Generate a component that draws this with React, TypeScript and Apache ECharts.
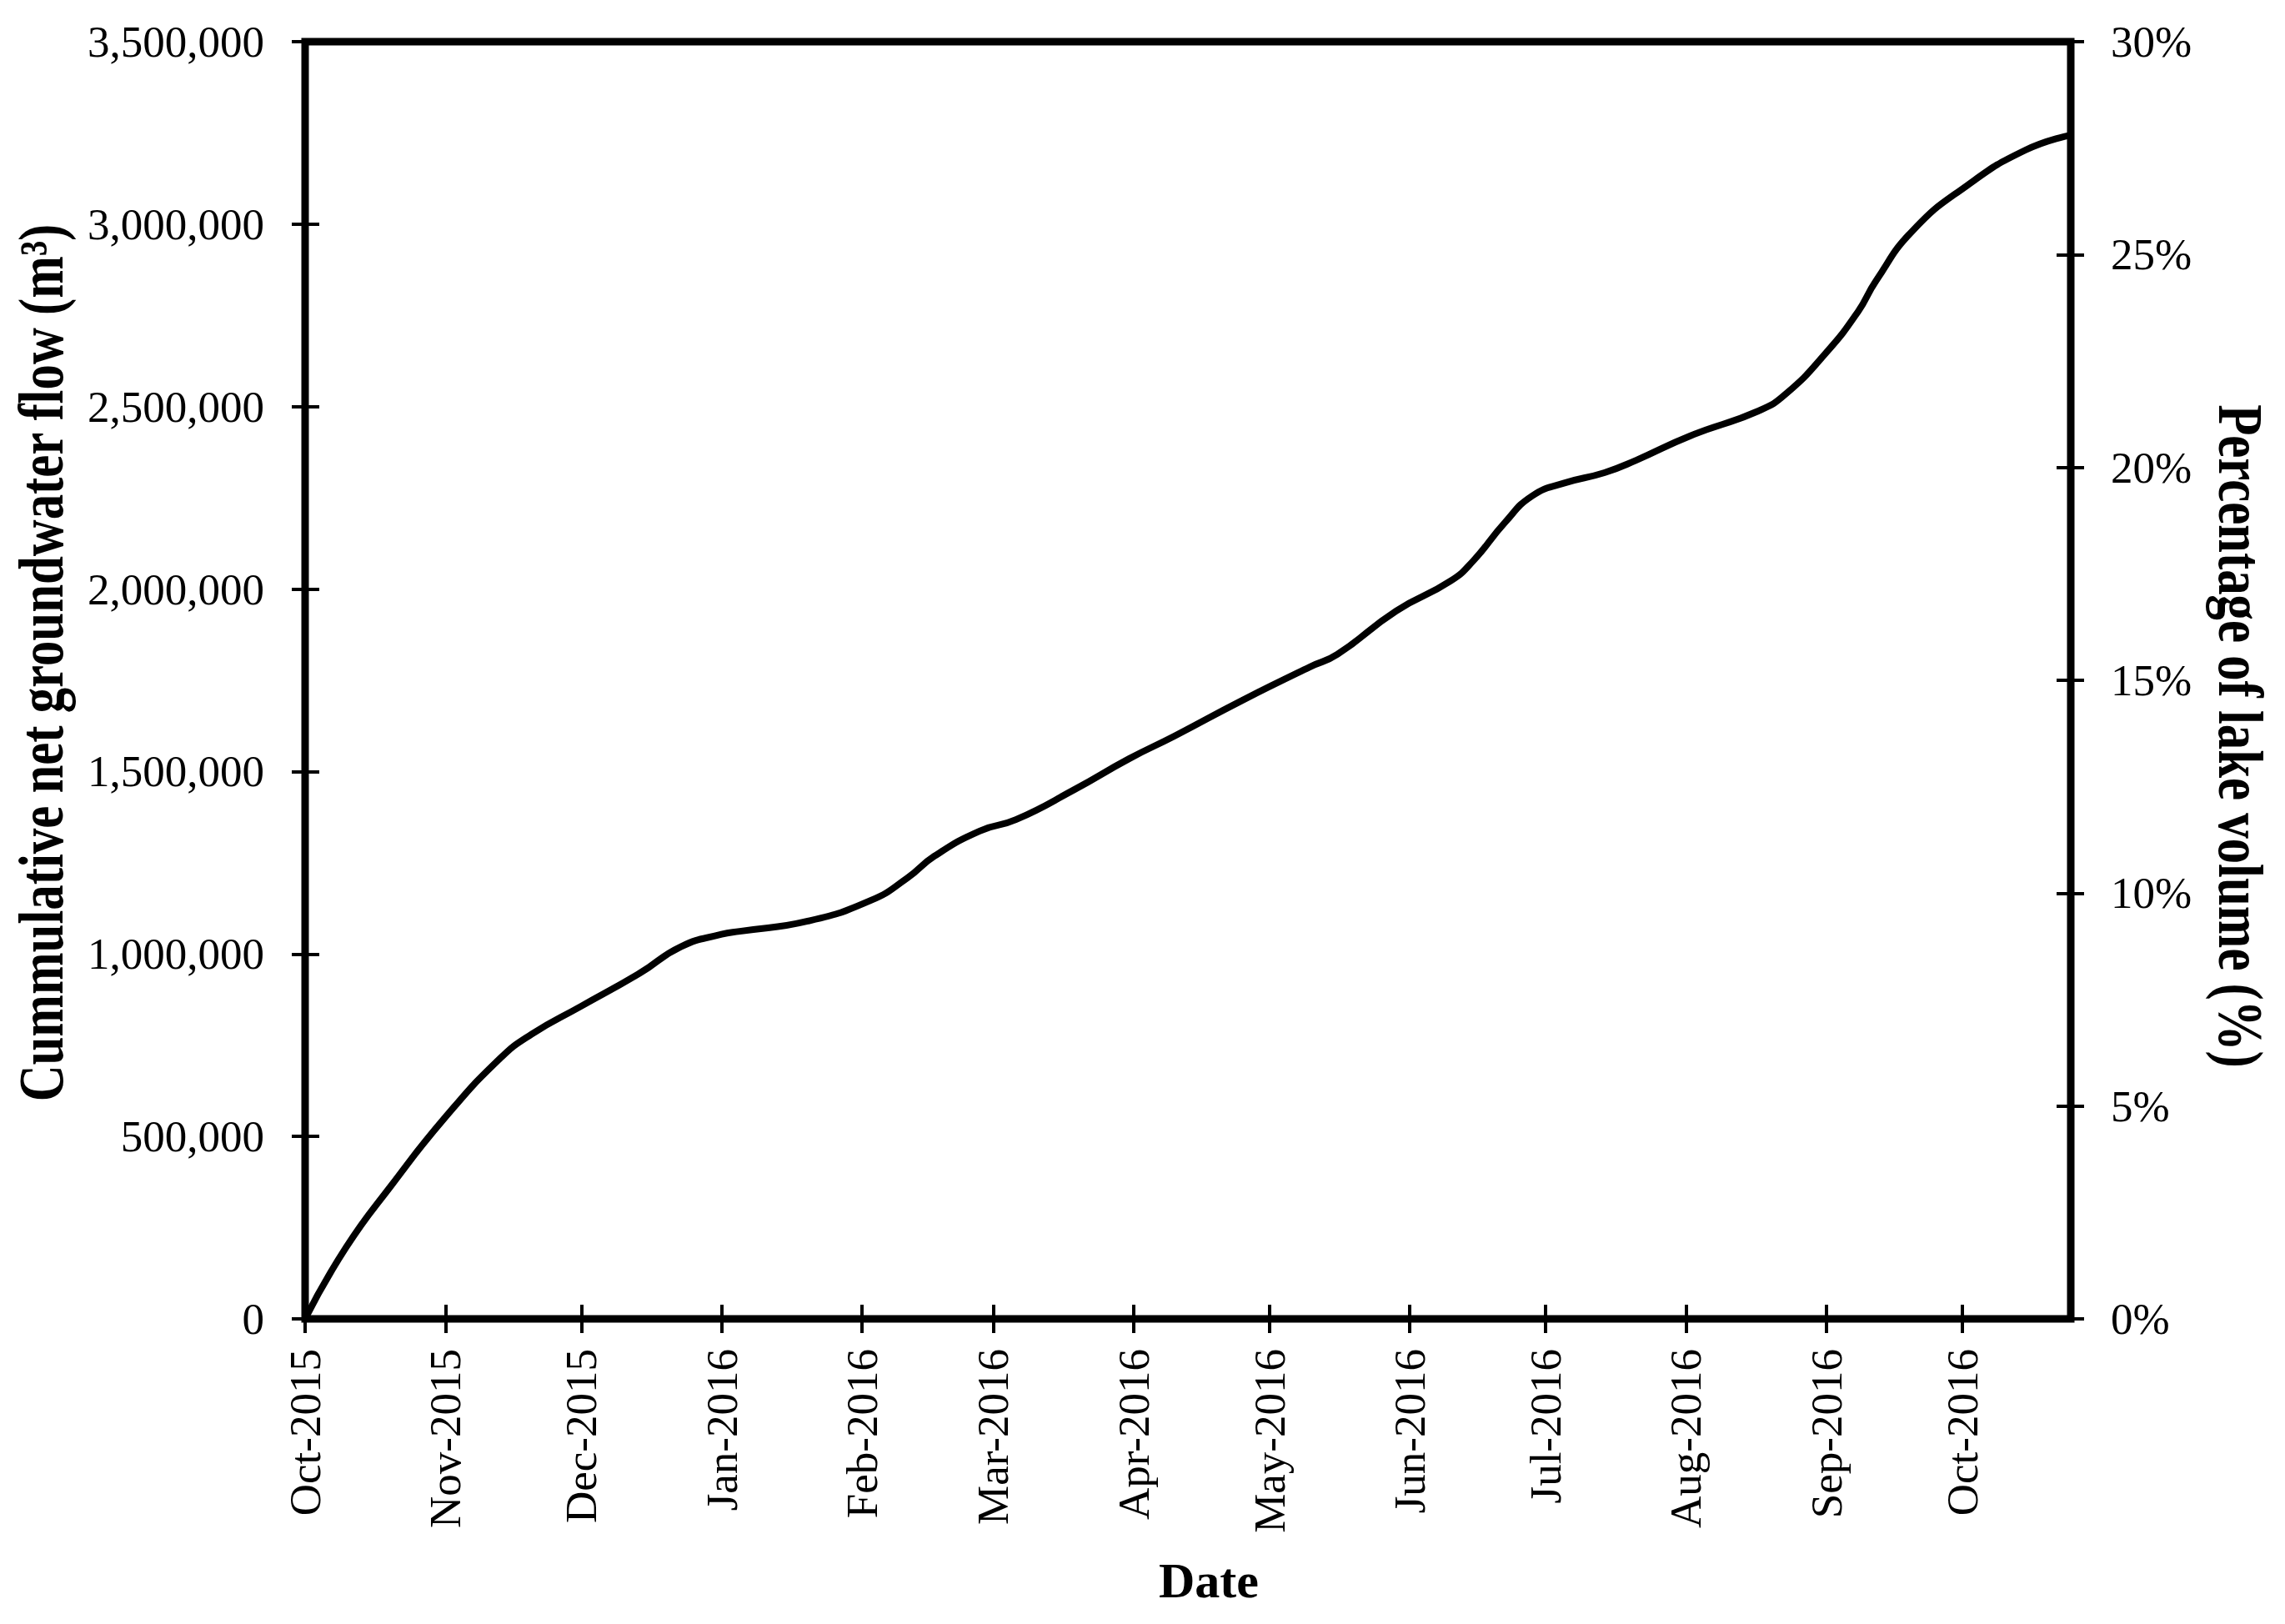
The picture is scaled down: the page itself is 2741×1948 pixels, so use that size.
import { useEffect, useRef } from "react";
import * as echarts from "echarts";

// ---- data ----
const MONTH_NAMES = ["Jan", "Feb", "Mar", "Apr", "May", "Jun", "Jul", "Aug", "Sep", "Oct", "Nov", "Dec"];
const AXIS_START = "2015-10-01";
const AXIS_END = "2016-10-25";

const FLOW_DATES = [
  "2015-10-01", "2015-10-10", "2015-10-20", "2015-11-01", "2015-11-13", "2015-11-20",
  "2015-12-01", "2015-12-14", "2015-12-23", "2016-01-01", "2016-01-05", "2016-01-20",
  "2016-02-03", "2016-02-11", "2016-02-17", "2016-02-27", "2016-03-06", "2016-03-19",
  "2016-03-31", "2016-04-10", "2016-04-25", "2016-05-10", "2016-05-16", "2016-05-29",
  "2016-06-10", "2016-06-15", "2016-06-22", "2016-06-28", "2016-07-05", "2016-07-14",
  "2016-07-21", "2016-08-02", "2016-08-17", "2016-08-23", "2016-09-01", "2016-09-08",
  "2016-09-12", "2016-09-20", "2016-10-02", "2016-10-15", "2016-10-25",
];
const FLOW_VALUES = [
  0, 195000, 365000, 553000, 713000, 780000,
  857000, 948000, 1020000, 1054000, 1062000, 1090000,
  1147000, 1208000, 1268000, 1337000, 1368000, 1451000,
  1535000, 1597000, 1695000, 1787000, 1821000, 1940000,
  2022000, 2077000, 2182000, 2255000, 2290000, 2319000,
  2353000, 2420000, 2488000, 2534000, 2648000, 2760000,
  2845000, 2981000, 3105000, 3203000, 3244000,
];

const FLOW_MIN = 0;
const FLOW_MAX = 3500000;
const FLOW_STEP = 500000;
const PCT_MIN = 0;
const PCT_MAX = 0.3;
const PCT_STEP = 0.05;

const LEFT_TITLE = "Cummulative net groundwater flow (m\u00B3)";
const RIGHT_TITLE = "Percentage of lake volume (%)";
const X_TITLE = "Date";

function buildDays(start: string, end: string): string[] {
  const out: string[] = [];
  const [sy, sm, sd] = start.split("-").map(Number);
  const [ey, em, ed] = end.split("-").map(Number);
  let t = Date.UTC(sy, sm - 1, sd);
  const endT = Date.UTC(ey, em - 1, ed);
  while (t <= endT) {
    out.push(new Date(t).toISOString().slice(0, 10));
    t += 86400000;
  }
  return out;
}

const FONT = '"Liberation Serif", "Times New Roman", serif';

export default function App() {
  const ref = useRef<HTMLDivElement>(null);

  useEffect(() => {
    if (!ref.current) return;
    const chart = echarts.init(ref.current, undefined, { renderer: "svg" });
    const days = buildDays(AXIS_START, AXIS_END);
    const isMonthStart = (_i: number, v: string) => v.slice(8) === "01";
    const monthLabel = (v: string) => {
      const y = v.slice(0, 4);
      const m = Number(v.slice(5, 7));
      return `${MONTH_NAMES[m - 1]}-${y}`;
    };
    const labelStyle = { color: "#000", fontFamily: FONT, fontSize: 53 };
    const tickStyle = { color: "#000", width: 4 };

    const baseX = {
      type: "category",
      data: days,
      boundaryGap: false,
      position: "bottom",
      splitLine: { show: false },
    };

    chart.setOption({
      animation: false,
      backgroundColor: "#fff",
      textStyle: { fontFamily: FONT, color: "#000" },
      grid: {
        left: 366,
        right: 257,
        top: 50,
        bottom: 366,
        show: true,
        borderColor: "#000",
        borderWidth: 9,
        backgroundColor: "transparent",
        containLabel: false,
        outerBoundsMode: "none",
      },
      xAxis: [
        {
          ...baseX,
          axisLine: { show: false, onZero: false },
          axisTick: { show: true, inside: false, length: 17, interval: isMonthStart, lineStyle: tickStyle },
          axisLabel: {
            ...labelStyle,
            interval: isMonthStart,
            rotate: 90,
            margin: 36,
            formatter: monthLabel,
          },
          name: X_TITLE,
          nameLocation: "middle",
          nameGap: 284,
          nameTextStyle: {
            fontFamily: FONT,
            fontSize: 60,
            fontWeight: "bold",
            color: "#000",
            padding: [0, 0, 0, 50],
          },
        },
        {
          ...baseX,
          axisLine: { show: false, onZero: false },
          axisTick: { show: true, inside: true, length: 17, interval: isMonthStart, lineStyle: tickStyle },
          axisLabel: { show: false },
        },
      ],
      yAxis: [
        {
          type: "value",
          position: "left",
          min: FLOW_MIN,
          max: FLOW_MAX,
          interval: FLOW_STEP,
          splitLine: { show: false },
          axisLine: { show: false },
          axisTick: { show: true, inside: false, length: 16, lineStyle: tickStyle },
          axisLabel: {
            ...labelStyle,
            margin: 49,
            formatter: (v: number) => v.toLocaleString("en-US"),
          },
        },
        {
          type: "value",
          position: "left",
          min: FLOW_MIN,
          max: FLOW_MAX,
          interval: FLOW_STEP,
          splitLine: { show: false },
          axisLine: { show: false },
          axisTick: { show: true, inside: true, length: 17, lineStyle: tickStyle },
          axisLabel: { show: false },
        },
        {
          type: "value",
          position: "right",
          min: PCT_MIN,
          max: PCT_MAX,
          interval: PCT_STEP,
          splitLine: { show: false },
          axisLine: { show: false },
          axisTick: { show: true, inside: false, length: 16, lineStyle: tickStyle },
          axisLabel: {
            ...labelStyle,
            margin: 48,
            formatter: (v: number) => `${Math.round(v * 100)}%`,
          },
        },
        {
          type: "value",
          position: "right",
          min: PCT_MIN,
          max: PCT_MAX,
          interval: PCT_STEP,
          splitLine: { show: false },
          axisLine: { show: false },
          axisTick: { show: true, inside: true, length: 17, lineStyle: tickStyle },
          axisLabel: { show: false },
        },
      ],
      series: [
        {
          type: "line",
          name: "Cumulative net groundwater flow",
          xAxisIndex: 0,
          yAxisIndex: 0,
          data: FLOW_DATES.map((d, i) => [d, FLOW_VALUES[i]]),
          smooth: 0.5,
          showSymbol: false,
          symbol: "none",
          lineStyle: { color: "#000", width: 8 },
          z: 5,
        },
      ],
      graphic: [
        {
          type: "text",
          x: 50,
          y: 795,
          rotation: Math.PI / 2,
          scaleX: 0.8,
          style: {
            text: LEFT_TITLE,
            font: `bold 76px ${FONT}`,
            fill: "#000",
            align: "center",
            verticalAlign: "middle",
          },
        },
        {
          type: "text",
          x: 2687,
          y: 883,
          rotation: -Math.PI / 2,
          scaleX: 0.8,
          style: {
            text: RIGHT_TITLE,
            font: `bold 76px ${FONT}`,
            fill: "#000",
            align: "center",
            verticalAlign: "middle",
          },
        },
      ],
    });

    return () => chart.dispose();
  }, []);

  return (
    <div
      ref={ref}
      style={{ position: "fixed", left: 0, top: 0, width: 2741, height: 1948, background: "#fff" }}
    />
  );
}
